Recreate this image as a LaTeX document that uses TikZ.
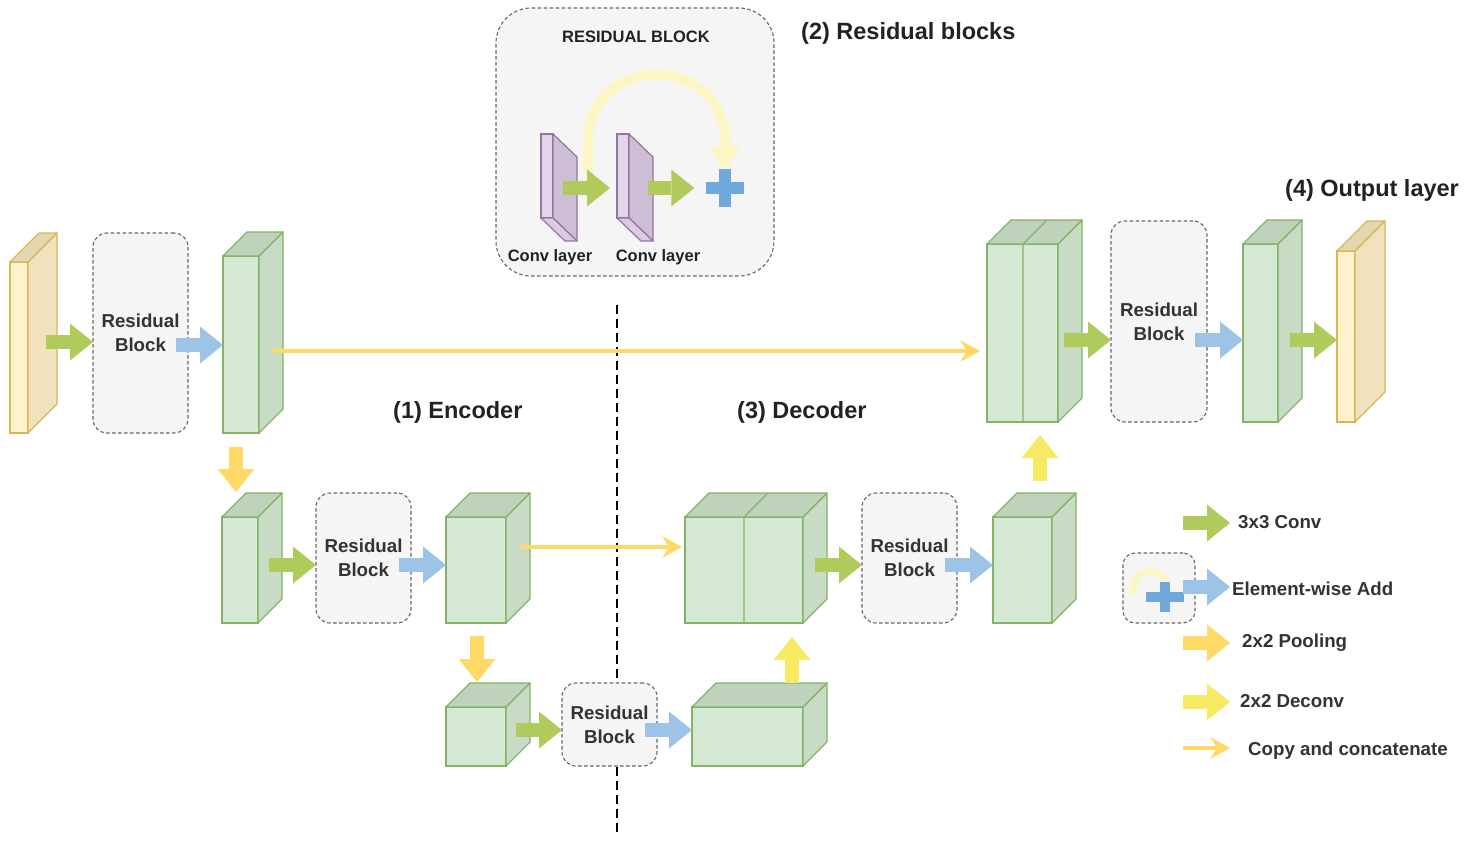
\documentclass[tikz,border=0pt]{standalone}
\usepackage{fontspec}
\setmainfont{Liberation Sans}
\usetikzlibrary{arrows.meta}
\definecolor{cGfill}{HTML}{D5E8D4}
\definecolor{cGside}{HTML}{C7DBC5}
\definecolor{cGtop}{HTML}{BFD3BC}
\definecolor{cGline}{HTML}{82B366}
\definecolor{cYfill}{HTML}{FFF2CC}
\definecolor{cYside}{HTML}{EFE2BD}
\definecolor{cYtop}{HTML}{E6D6B0}
\definecolor{cYline}{HTML}{D6B656}
\definecolor{cPfill}{HTML}{E1D5E7}
\definecolor{cPside}{HTML}{CDBED6}
\definecolor{cPbot}{HTML}{D9CBE0}
\definecolor{cPline}{HTML}{9673A6}
\definecolor{cRfill}{HTML}{F5F5F5}
\definecolor{cRline}{HTML}{666666}
\definecolor{cConv}{HTML}{B0CB5C}
\definecolor{cAdd}{HTML}{9DC3E6}
\definecolor{cPool}{HTML}{FFD966}
\definecolor{cDeconv}{HTML}{F5EA61}
\definecolor{cPlus}{HTML}{6FA8DC}
\definecolor{cSkip}{HTML}{FCF5C4}
\definecolor{cTxt}{HTML}{333333}
\definecolor{cTitle}{HTML}{222222}
\newcommand\mycube[7]{%
  \pgfmathsetmacro\cubeW{#4-#2}%
  \pgfmathsetmacro\cubeH{#5-#3}%
  \node[#7front, minimum width=\cubeW pt, minimum height=\cubeH pt] (#1) at ({(#2+#4)/2},{(#3+#5)/2}) {};
  \draw[#7side] (#1.north east) -- ++(#6,-#6) -- ++(0,\cubeH) -- (#1.south east) -- cycle;
  \draw[#7top] (#1.north west) -- ++(#6,-#6) -- ++(\cubeW,0) -- (#1.north east) -- cycle;
}
\newcommand\myconv[1]{%
  \draw[pside] (#1.north east) -- ++(24,23) -- ++(0,84) -- (#1.south east) -- cycle;
  \draw[pbot] (#1.south west) -- ++(24,23) -- ++(12,0) -- (#1.south east) -- cycle;
}
\begin{document}
\begin{tikzpicture}[x=1pt, y=-1pt, font=\fontsize{18.7}{24}\selectfont\bfseries,
  gfront/.style={draw=cGline, fill=cGfill, line width=1.3pt, inner sep=0pt, outer sep=0pt},
  gside/.style={draw=cGline, fill=cGside, line width=1.3pt, line join=round},
  gtop/.style={draw=cGline, fill=cGtop, line width=1.3pt, line join=round},
  gedge/.style={draw=cGline, line width=1.3pt},
  yfront/.style={draw=cYline, fill=cYfill, line width=1.3pt, inner sep=0pt, outer sep=0pt},
  yside/.style={draw=cYline, fill=cYside, line width=1.3pt, line join=round},
  ytop/.style={draw=cYline, fill=cYtop, line width=1.3pt, line join=round},
  pfront/.style={draw=cPline, fill=cPfill, line width=1.2pt, inner sep=0pt, outer sep=0pt, minimum width=12pt, minimum height=84pt},
  pside/.style={draw=cPline, fill=cPside, line width=1.2pt, line join=round},
  pbot/.style={draw=cPline, fill=cPbot, line width=1.2pt, line join=round},
  resB/.style={draw=cRline, fill=cRfill, dash pattern=on 3.5pt off 2.5pt, line width=1.1pt, rounded corners=14pt, inner sep=0pt, outer sep=0pt, align=center, text=cTxt},
  blkA/.style={line width=13.5pt, -{Triangle[width=37pt,length=23pt,line width=0pt]}},
  convA/.style={blkA, draw=cConv},
  addA/.style={blkA, draw=cAdd},
  poolA/.style={blkA, draw=cPool},
  deconvA/.style={blkA, draw=cDeconv},
  copyA/.style={draw=cPool, line width=4pt, -{Stealth[length=20pt,width=22pt,inset=7pt,line width=0pt]}},
  skipS/.style={draw=cSkip},
  plusS/.style={draw=cPlus},
  lbl/.style={text=cTxt, inner sep=0pt, anchor=base west},
  lbls/.style={text=cTitle, inner sep=0pt, anchor=base, font=\fontsize{16.5}{20}\selectfont\bfseries},
  ttl/.style={text=cTitle, inner sep=0pt, anchor=base west, font=\fontsize{23.5}{28}\selectfont\bfseries},
  dline/.style={draw=black, line width=2.4pt, dash pattern=on 9pt off 5pt}
]
\fill[white] (0,0) rectangle (1464,843);
\useasboundingbox (0,0) rectangle (1464,843);

% divider line
\coordinate (dtop) at (617,305);
\coordinate (dbot) at (617,836);
\draw[dline] (dtop) -- (dbot);

% ---------- residual block detail ----------
\node[resB, rounded corners=35pt, minimum width=278pt, minimum height=268pt] (big) at (635,142) {};
\node[lbls] (rbt) at (636,43) {RESIDUAL BLOCK};
\node[pfront] (c1) at (547,176) {};
\myconv{c1}
\node[pfront] (c2) at (623,176) {};
\myconv{c2}
\node[lbls] (cl1) at (550,261) {Conv layer};
\node[lbls] (cl2) at (658,261) {Conv layer};
\node[inner sep=0pt, minimum size=37pt] (plus) at (725,188) {};
\coordinate (sk) at (588,172);
\draw[skipS, line width=10pt, -{Triangle[width=30pt,length=26pt,line width=0pt]}]
  (sk) -- (588,143) .. controls (588,52) and (725,52) .. (725,143) -- ([yshift=-3pt]plus.north);
\draw[plusS, line width=12.5pt] (plus.west) -- (plus.east) (plus.north) -- (plus.south);
\coordinate (rH) at (0,188);
\draw[convA] ([xshift=10pt]c1.east |- rH) -- ([xshift=-7pt]c2.west |- rH);
\draw[convA] ([xshift=19pt]c2.east |- rH) -- ([xshift=-12pt]plus.west |- rH);

% ---------- cubes ----------
\mycube{yin}{10}{262}{28}{433}{29}{y}
\mycube{g1}{223}{256}{259}{433}{24}{g}
\mycube{g2}{222}{517}{258}{623}{24}{g}
\mycube{g3}{446}{517}{506}{623}{24}{g}
\mycube{g4}{446}{707}{506}{766}{24}{g}
\mycube{g5}{692}{707}{803}{766}{24}{g}
\mycube{g6}{685}{517}{803}{623}{24}{g}
\draw[gedge] ([xshift=59pt]g6.north west) -- ([xshift=59pt]g6.south west)
  ([xshift=59pt]g6.north west) -- ++(24,-24);
\mycube{g7}{993}{517}{1052}{623}{24}{g}
\mycube{g8}{987}{244}{1058}{422}{24}{g}
\draw[gedge] ([xshift=36pt]g8.north west) -- ([xshift=36pt]g8.south west)
  ([xshift=36pt]g8.north west) -- ++(24,-24);
\mycube{g9}{1243}{244}{1278}{422}{24}{g}
\mycube{yout}{1337}{251}{1355}{422}{30}{y}

% ---------- residual blocks ----------
\node[resB, minimum width=95pt, minimum height=200pt] (r1) at (140.5,333) {Residual\\Block};
\node[resB, minimum width=95pt, minimum height=130pt] (r2) at (363.5,558) {Residual\\Block};
\node[resB, minimum width=95pt, minimum height=83pt] (r3) at (609.5,724.5) {Residual\\Block};
\node[resB, minimum width=95pt, minimum height=130pt] (r4) at (909.5,558) {Residual\\Block};
\node[resB, minimum width=96pt, minimum height=201pt] (r5) at (1159,321.5) {Residual\\Block};

% ---------- titles ----------
\node[ttl] (t2) at (801,39.5) {(2) Residual blocks};
\node[ttl] (t4) at (1285,196) {(4) Output layer};
\node[ttl] (t1) at (393,418) {(1) Encoder};
\node[ttl] (t3) at (737,418) {(3) Decoder};

% ---------- connectors ----------
\coordinate (rA) at (0,342);
\coordinate (rB) at (0,345);
\coordinate (rC) at (0,351);
\coordinate (rD) at (0,565);
\coordinate (rE) at (0,547);
\coordinate (rF) at (0,730);
\coordinate (rG) at (0,340);
\coordinate (cP1) at (236,0);
\coordinate (cP2) at (477,0);
\coordinate (cD1) at (792,0);
\coordinate (cD2) at (1040,0);

\draw[copyA] ([xshift=12pt]g1.east |- rC) -- ([xshift=-7pt]g8.west |- rC);
\draw[copyA] ([xshift=14pt]g3.east |- rE) -- ([xshift=-3pt]g6.west |- rE);

\draw[convA] ([xshift=18pt]yin.east |- rA) -- (r1.west |- rA);
\draw[addA] ([xshift=-12pt]r1.east |- rB) -- (g1.west |- rB);
\draw[poolA] ([yshift=-14pt]cP1 |- g1.south) -- ([yshift=25pt]cP1 |- g2.north);

\draw[convA] ([xshift=11pt]g2.east |- rD) -- (r2.west |- rD);
\draw[addA] ([xshift=-12pt]r2.east |- rD) -- (g3.west |- rD);
\draw[poolA] ([yshift=-13pt]cP2 |- g3.south) -- ([yshift=25pt]cP2 |- g4.north);

\draw[convA] ([xshift=10pt]g4.east |- rF) -- (r3.west |- rF);
\draw[addA] ([xshift=-12pt]r3.east |- rF) -- (g5.west |- rF);
\draw[deconvA] ([yshift=24pt]cD1 |- g5.north) -- ([yshift=-14pt]cD1 |- g6.south);

\draw[convA] ([xshift=12pt]g6.east |- rD) -- (r4.west |- rD);
\draw[addA] ([xshift=-12pt]r4.east |- rD) -- (g7.west |- rD);
\draw[deconvA] ([yshift=36pt]cD2 |- g7.north) -- ([yshift=-13pt]cD2 |- g8.south);

\draw[convA] ([xshift=6pt]g8.east |- rG) -- (r5.west |- rG);
\draw[addA] ([xshift=-12pt]r5.east |- rG) -- (g9.west |- rG);
\draw[convA] ([xshift=12pt]g9.east |- rG) -- (yout.west |- rG);

% ---------- legend ----------
\node[resB, rounded corners=12pt, minimum width=72pt, minimum height=70pt] (lgI) at (1159,588) {};
\draw[skipS, line width=7pt] (1133,595) -- (1133,588) .. controls (1133,566) and (1167,566) .. (1167,588);
\node[inner sep=0pt, minimum width=37pt, minimum height=30pt] (lp) at (1165,597) {};
\draw[plusS, line width=10pt] (lp.west) -- (lp.east) (lp.north) -- (lp.south);

\node[lbl] (l1) at (1238,528) {3x3 Conv};
\node[lbl] (l2) at (1232,595) {Element-wise Add};
\node[lbl] (l3) at (1242,647) {2x2 Pooling};
\node[lbl] (l4) at (1240,707) {2x2 Deconv};
\node[lbl] (l5) at (1248,755) {Copy and concatenate};
\draw[convA] ([xshift=-55pt,yshift=5pt]l1.base west) -- ([xshift=-8pt,yshift=5pt]l1.base west);
\draw[addA] ([xshift=-49pt,yshift=8pt]l2.base west) -- ([xshift=-2pt,yshift=8pt]l2.base west);
\draw[poolA] ([xshift=-59pt,yshift=4pt]l3.base west) -- ([xshift=-12pt,yshift=4pt]l3.base west);
\draw[deconvA] ([xshift=-57pt,yshift=5pt]l4.base west) -- ([xshift=-10pt,yshift=5pt]l4.base west);
\draw[copyA] ([xshift=-65pt,yshift=7pt]l5.base west) -- ([xshift=-18pt,yshift=7pt]l5.base west);
\end{tikzpicture}
\end{document}
